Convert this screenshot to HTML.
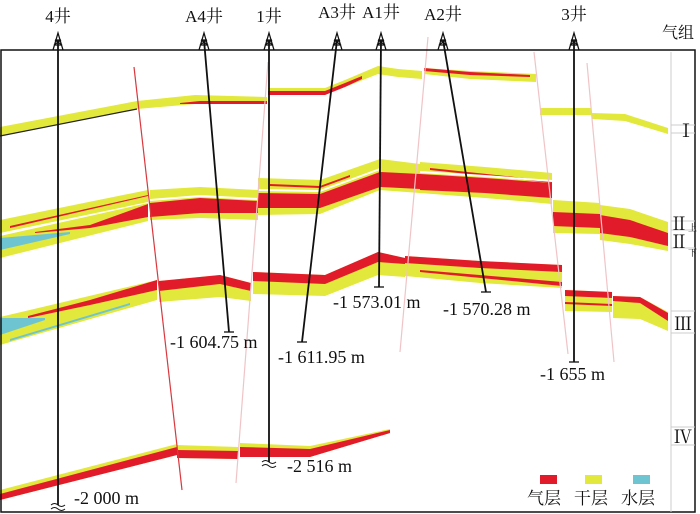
<!DOCTYPE html>
<html><head><meta charset="utf-8">
<style>
html,body{margin:0;padding:0;background:#fff;}
svg{display:block;}
text{font-family:"Liberation Serif","Noto Serif CJK SC","Noto Sans CJK SC",serif;fill:#111;}
</style></head>
<body>
<svg id="chart" width="700" height="514" viewBox="0 0 700 514" xmlns="http://www.w3.org/2000/svg">
  <g id="layers"></g>
  <g id="faults"></g>
  <g id="wells"></g>
  <rect x="1" y="50" width="694" height="462" fill="none" stroke="#111" stroke-width="1.5"/>
  <g>
    <line x1="671" y1="52" x2="671" y2="512" stroke="#ccc" stroke-width="1"/>
    <text x="662" y="38" font-size="16">气组</text>
    <line x1="671" y1="125" x2="695" y2="125" stroke="#ccc"/><line x1="671" y1="133" x2="695" y2="133" stroke="#ccc"/>
    <text x="677" y="137" font-size="18">Ⅰ</text>
    <line x1="671" y1="221" x2="695" y2="221" stroke="#ccc"/><line x1="671" y1="230" x2="695" y2="230" stroke="#ccc"/>
    <text x="670" y="230" font-size="18">Ⅱ</text>
    <text x="688" y="231" font-size="9">上</text>
    <line x1="671" y1="248" x2="695" y2="248" stroke="#ccc"/>
    <text x="670" y="248" font-size="18">Ⅱ</text>
    <text x="688" y="256" font-size="9">下</text>
    <line x1="671" y1="311" x2="695" y2="311" stroke="#ccc"/><line x1="671" y1="333" x2="695" y2="333" stroke="#ccc"/>
    <text x="674" y="330" font-size="18">Ⅲ</text>
    <line x1="671" y1="427" x2="695" y2="427" stroke="#ccc"/><line x1="671" y1="445" x2="695" y2="445" stroke="#ccc"/>
    <text x="674" y="443" font-size="18">Ⅳ</text>
  </g>
  <g>
    <rect x="540" y="475" width="17" height="9" fill="#e21b2a"/>
    <rect x="585" y="475" width="17" height="9" fill="#e2e83c"/>
    <rect x="633" y="475" width="17" height="9" fill="#6fc4d2"/>
    <text x="527" y="504" font-size="17">气层</text>
    <text x="574" y="504" font-size="17">干层</text>
    <text x="621" y="504" font-size="17">水层</text>
  </g>
</svg>
<script>
// ---- data ----
// band segments: [x, top, bottom]
const dryBands = [
  [[0,127,136],[137,101,109]],
  [[137,101,109],[195,95,104],[267,97,104]],
  [[268,88,95],[325,88,95],[345,80,87],[378,66,74]],
  [[378,66,74],[398,69,77],[422,71,79]],
  [[424,68,74],[470,71,79],[536,74,82]],
  [[540,108,115],[591,108,115]],
  [[592,113,119],[625,114,121],[668,128,134]],
  [[0,220,233],[148,190,202]],
  [[0,236,258],[148,203,221]],
  [[150,190,220],[200,187,218],[258,190,220]],
  [[258,178,215],[320,180,214],[380,159,190]],
  [[380,159,190],[420,164,193]],
  [[420,162,193],[485,167,198],[552,173,204]],
  [[553,200,233],[600,203,234]],
  [[600,205,240],[630,209,244],[668,222,251]],
  [[0,317,345],[157,280,300]],
  [[159,281,302],[220,275,297],[251,283,301]],
  [[253,272,294],[325,275,296],[378,252,275]],
  [[378,252,275],[405,258,277]],
  [[405,256,276],[480,261,283],[562,265,288]],
  [[565,290,311],[612,292,312]],
  [[613,296,318],[640,297,319],[668,312,331]],
  [[0,490,500],[177,444,455]],
  [[177,445,458],[238,447,459]],
  [[240,443,457],[310,446,457],[390,429,433]]
];
const gasBands = [
  [[180,103,104],[200,101,104],[267,101,104]],
  [[268,91,95],[325,91,95],[345,83,87],[362,76,79]],
  [[424,68,71],[470,72,75],[530,75,77]],
  [[10,226,228],[148,195,196]],
  [[35,232,233],[90,225,228],[148,204,217]],
  [[150,203,217],[200,198,213],[258,201,213]],
  [[258,193,208],[320,194,208],[380,172,187]],
  [[380,172,187],[420,174,189]],
  [[420,174,190],[485,178,193],[552,183,198]],
  [[270,184,186],[320,186,188],[350,175,177]],
  [[430,168,170],[552,181,183]],
  [[553,212,226],[600,214,228]],
  [[600,215,233],[630,220,237],[668,233,246]],
  [[28,316,318],[90,300,305],[157,280,290]],
  [[159,281,291],[220,275,284],[251,283,291]],
  [[253,272,281],[325,275,284],[378,252,262]],
  [[378,252,262],[405,258,264]],
  [[405,256,263],[480,261,268],[562,265,272]],
  [[420,270,272],[562,282,286]],
  [[565,290,296],[612,292,298]],
  [[565,302,304],[612,304,306]],
  [[613,296,301],[640,297,303],[668,313,321]],
  [[0,494,500],[177,447,455]],
  [[177,450,458],[238,451,459]],
  [[240,447,457],[310,449,457],[390,430,433]]
];
const waterBands = [
  [[0,238,250],[70,232,234]],
  [[0,318,335],[45,318,320]],
  [[10,339,341],[130,303,305]]
];
const gapBands = [
  [[150,199,201],[200,195,197],[258,198,200]],
  [[258,189,191],[320,190,192],[380,168,170]],
  [[420,171,173],[485,175,177],[552,180,182]]
];
const faultLines = [
  {x1:134,y1:67,x2:182,y2:490,c:"#d9383e"},
  {x1:268,y1:62,x2:236,y2:483,c:"#f0c4c6"},
  {x1:428,y1:37,x2:400,y2:352,c:"#f0c4c6"},
  {x1:534,y1:52,x2:568,y2:354,c:"#f0c4c6"},
  {x1:587,y1:63,x2:614,y2:362,c:"#f0c4c6"}
];
const wellNames = ["4井","A4井","1井","A3井","A1井","A2井","3井"];
const wellTopX = [58,204,269,337,381,443,574];
const wellBottomX = [58,229,269,302,379,486,574];
const wellBottomY = [505,332,462,342,287,292,362];
const wellLabelY = [22,22,22,18,18,20,20];
const depthLabels = ["-2 000 m","-1 604.75 m","-2 516 m","-1 611.95 m","-1 573.01 m","-1 570.28 m","-1 655 m"];
const depthLabelX = [74,170,287,278,333,443,540];
const depthLabelY = [504,348,472,363,308,315,380];
const broken = [true,false,true,false,false,false,false];

const NS="http://www.w3.org/2000/svg";
const layers=document.getElementById('layers');
function bandPath(seg){
  let d="M"+seg.map(p=>p[0]+","+p[1]).join(" L");
  d+=" L"+seg.slice().reverse().map(p=>p[0]+","+p[2]).join(" L")+" Z";
  return d;
}
function drawBands(arr,color,name){
  arr.forEach(seg=>{
    const p=document.createElementNS(NS,'path');
    p.setAttribute('d',bandPath(seg));
    p.setAttribute('fill',color);
    
    
    layers.appendChild(p);
  });
}
drawBands(dryBands,"#e2e83c","dry-layer");
drawBands(gasBands,"#e21b2a","gas-layer");
drawBands(waterBands,"#6fc4d2","water-layer");
drawBands(gapBands,"#ffffff","layer-gap");
const bl=document.createElementNS(NS,'line');
bl.setAttribute('x1',0);bl.setAttribute('y1',136);bl.setAttribute('x2',137);bl.setAttribute('y2',109);
bl.setAttribute('stroke','#222');bl.setAttribute('stroke-width','1.2');


layers.appendChild(bl);

const faults=document.getElementById('faults');
faultLines.forEach(f=>{
  const l=document.createElementNS(NS,'line');
  l.setAttribute('x1',f.x1);l.setAttribute('y1',f.y1);l.setAttribute('x2',f.x2);l.setAttribute('y2',f.y2);
  l.setAttribute('stroke',f.c);l.setAttribute('stroke-width','1.2');
  
  
  faults.appendChild(l);
});

const wells=document.getElementById('wells');
wellNames.forEach((n,i)=>{
  const g=document.createElementNS(NS,'g');
  
  
  const tx=wellTopX[i];
  const l=document.createElementNS(NS,'line');
  l.setAttribute('x1',tx);l.setAttribute('y1',40);l.setAttribute('x2',wellBottomX[i]);l.setAttribute('y2',wellBottomY[i]);
  l.setAttribute('stroke','#111');l.setAttribute('stroke-width','1.8');
  g.appendChild(l);
  const der=document.createElementNS(NS,'path');
  der.setAttribute('d',`M${tx-5},50 L${tx},33 L${tx+5},50 M${tx-4},45 L${tx+4},45 M${tx-3},40 L${tx+3},40 M${tx-4},45 L${tx+3},40 M${tx+4},45 L${tx-3},40`);
  der.setAttribute('stroke','#111');der.setAttribute('fill','none');der.setAttribute('stroke-width','1.3');
  
  
  g.appendChild(der);
  if(broken[i]){
    const s=document.createElementNS(NS,'path');
    const bx=wellBottomX[i], by=wellBottomY[i];
    s.setAttribute('d',`M${bx-7},${by} q3.5,-3 7,0 t7,0 M${bx-7},${by+4} q3.5,-3 7,0 t7,0`);
    s.setAttribute('stroke','#111');s.setAttribute('fill','none');s.setAttribute('stroke-width','1');
    g.appendChild(s);
  } else {
    const t=document.createElementNS(NS,'line');
    t.setAttribute('x1',wellBottomX[i]-5);t.setAttribute('y1',wellBottomY[i]);
    t.setAttribute('x2',wellBottomX[i]+5);t.setAttribute('y2',wellBottomY[i]);
    t.setAttribute('stroke','#111');t.setAttribute('stroke-width','1.3');
    g.appendChild(t);
  }
  const lab=document.createElementNS(NS,'text');
  lab.setAttribute('x',tx);lab.setAttribute('y',wellLabelY[i]);
  lab.setAttribute('text-anchor','middle');lab.setAttribute('font-size','17');
  lab.textContent=n;
  
  
  g.appendChild(lab);
  const dl=document.createElementNS(NS,'text');
  dl.setAttribute('x',depthLabelX[i]);dl.setAttribute('y',depthLabelY[i]);
  dl.setAttribute('font-size','18');
  dl.textContent=depthLabels[i];
  
  
  g.appendChild(dl);
  wells.appendChild(g);
});
</script>
</body></html>
